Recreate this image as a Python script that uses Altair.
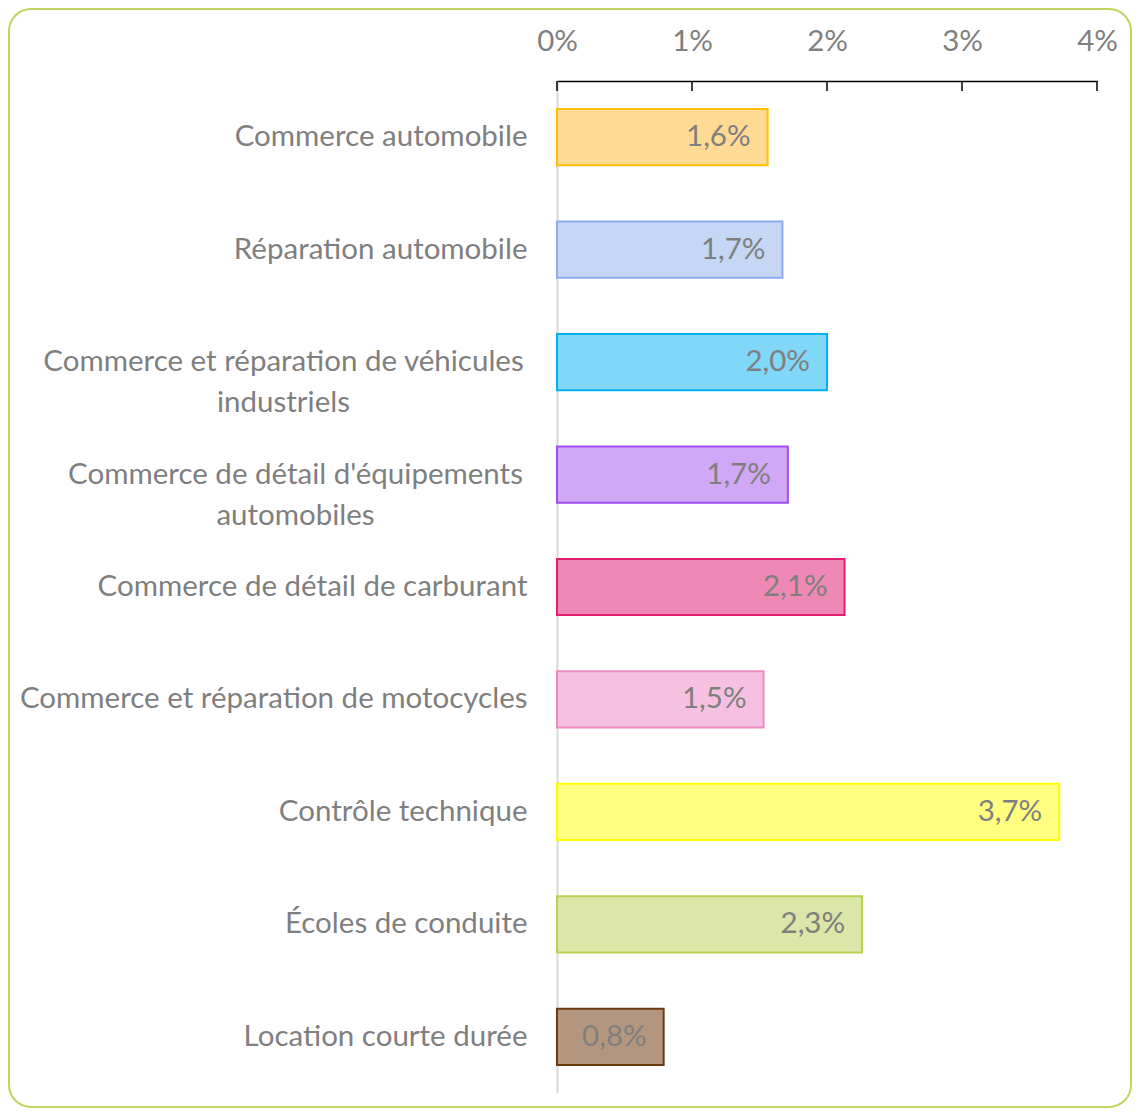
import altair as alt
import pandas as pd

categories = [
    "Commerce automobile",
    "Réparation automobile",
    "Commerce et réparation de véhicules|industriels",
    "Commerce de détail d'équipements|automobiles",
    "Commerce de détail de carburant",
    "Commerce et réparation de motocycles",
    "Contrôle technique",
    "Écoles de conduite",
    "Location courte durée",
]
values = [1.56, 1.67, 2.00, 1.71, 2.13, 1.53, 3.72, 2.26, 0.79]
value_labels = ["1,6%", "1,7%", "2,0%", "1,7%", "2,1%", "1,5%", "3,7%", "2,3%", "0,8%"]
fills = ["#FFDA95", "#C6D6F5", "#80D7F8", "#D1A8F5", "#EE89B6", "#F6C1E0", "#FFFF80", "#DBE6A8", "#B3967D"]
strokes = ["#FFC000", "#8FAAF0", "#00B0F0", "#A24CF0", "#E0206F", "#EE8AC2", "#FFFF00", "#B5D350", "#6B3A10"]
tick_values = [0, 1, 2, 3, 4]

FONT = "Lato"
FS = 29.5
GRAY = "#7F7F7F"
W, H = 540, 1012
PAD_L, PAD_T = 549, 73
TOTAL_W, TOTAL_H = 1124, 1100

df = pd.DataFrame({"cat": categories, "v": values, "lab": value_labels})
ticks_df = pd.DataFrame({"t": tick_values})
frame_df = pd.DataFrame({"a": [0]})

y_enc = alt.Y(
    "cat:N",
    sort=categories,
    scale=alt.Scale(paddingInner=0.5, paddingOuter=0.25),
    title=None,
    axis=alt.Axis(
        domainColor="#D9D9D9",
        domainWidth=2,
        ticks=False,
        labelFont=FONT,
        labelFontSize=FS,
        labelColor=GRAY,
        labelLimit=0,
        labelLineHeight=41,
        labelExpr="split(datum.label, '|')",
        labelAlign={
            "condition": {"test": "indexof(datum.value, '|') >= 0", "value": "center"},
            "value": "right",
        },
        labelPadding={
            "condition": [
                {"test": "datum.value == '" + categories[2] + "'", "value": 274},
                {"test": "datum.value == \"" + categories[3] + "\"", "value": 262},
            ],
            "value": 30,
        },
    ),
)

x_scale = alt.Scale(domain=[0, 4], nice=False, zero=True)

bars = alt.Chart(df).mark_bar(strokeWidth=2).encode(
    x=alt.X(
        "v:Q",
        scale=x_scale,
        title=None,
        axis=alt.Axis(
            orient="top",
            values=tick_values,
            labelExpr="datum.value + '%'",
            labelFlush=False,
            labelOverlap=False,
            domainColor="#000000",
            domainWidth=1.5,
            ticks=False,
            grid=False,
            labelFont=FONT,
            labelFontSize=FS,
            labelColor=GRAY,
            labelPadding=25,
        ),
    ),
    y=y_enc,
    color=alt.Color("cat:N", scale=alt.Scale(domain=categories, range=fills), legend=None),
    stroke=alt.Stroke("cat:N", scale=alt.Scale(domain=categories, range=strokes), legend=None),
)

texts = alt.Chart(df).mark_text(
    align="right", baseline="middle", dx=-17, font=FONT, fontSize=FS, color=GRAY
).encode(
    x=alt.X("v:Q", scale=x_scale),
    y=alt.Y("cat:N", sort=categories),
    text="lab:N",
)

tick_marks = alt.Chart(ticks_df).mark_rule(color="#000000", strokeWidth=1.5).encode(
    x=alt.X("t:Q", scale=x_scale),
    y=alt.value(0),
    y2=alt.value(10),
)

frame = alt.Chart(frame_df).mark_rect(
    fill="transparent", stroke="#BCD65E", strokeWidth=2, cornerRadius=22, clip=False
).encode(
    x=alt.value(-PAD_L + 1),
    x2=alt.value(TOTAL_W - PAD_L - 1),
    y=alt.value(-PAD_T + 1),
    y2=alt.value(TOTAL_H - PAD_T - 1),
)

chart = alt.layer(bars, texts, tick_marks, frame).properties(
    width=W,
    height=H,
    autosize=alt.AutoSizeParams(type="none"),
    padding={"left": PAD_L, "top": PAD_T, "right": TOTAL_W - PAD_L - W, "bottom": TOTAL_H - PAD_T - H},
).configure_view(stroke=None)

chart.save("out.html", embed_options={"renderer": "svg", "actions": False})
